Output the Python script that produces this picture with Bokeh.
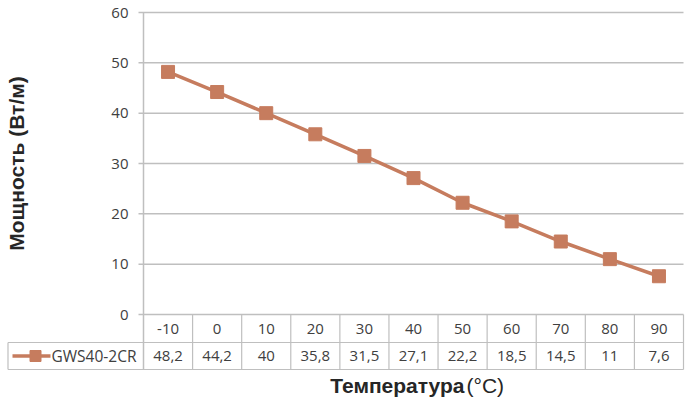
from bokeh.plotting import figure
from bokeh.models import Range1d
from bokeh.core.properties import value
from bokeh.embed import file_html
from bokeh.resources import INLINE

# ---- data ----
temps = ["-10", "0", "10", "20", "30", "40", "50", "60", "70", "80", "90"]
power = [48.2, 44.2, 40, 35.8, 31.5, 27.1, 22.2, 18.5, 14.5, 11, 7.6]
power_labels = ["48,2", "44,2", "40", "35,8", "31,5", "27,1", "22,2", "18,5", "14,5", "11", "7,6"]
y_ticks = [0, 10, 20, 30, 40, 50, 60]
series_name = "GWS40-2CR"
y_title = "Мощность (Вт/м)"
x_title_bold = "Температура"
x_title_unit = "(°C)"

# ---- layout helpers (pixel layout -> data units) ----
W, H = 685, 398
N = len(temps)
LEFT_PX, RIGHT_PX = 143, 683
COLW = (RIGHT_PX - LEFT_PX) / N
X0 = -0.5 - LEFT_PX / COLW
XR = X0 + W / COLW
Y_TOP_PX, Y_ZERO_PX = 12, 314
YS = (Y_ZERO_PX - Y_TOP_PX) / 60.0


def dx(px):
    return X0 + px / COLW


def dy(px):
    return (Y_ZERO_PX - px) / YS


ROW1_BOT = dy(342)
ROW2_BOT = dy(369)
ROW1_MID = (0 + ROW1_BOT) / 2
ROW2_MID = (ROW1_BOT + ROW2_BOT) / 2
X_END = N - 0.5

GRID = "#BFBFBF"
TXT = "#404040"
SER = "#C67C5E"
FONT = value("Open Sans")
BOLD = value("Liberation Sans")

p = figure(width=W, height=H, x_range=Range1d(X0, XR), y_range=Range1d(dy(H), dy(0)),
           output_backend="svg", toolbar_location=None, min_border=0,
           x_axis_type=None, y_axis_type=None, outline_line_color=None,
           background_fill_color="white", border_fill_color="white")
p.min_border_left = p.min_border_right = p.min_border_top = p.min_border_bottom = 0

idx = list(range(N))

# gridlines with small outer ticks
p.segment(x0=[dx(138)] * len(y_ticks), y0=y_ticks, x1=[X_END] * len(y_ticks), y1=y_ticks,
          line_color=GRID, line_width=1.5)
# value axis line (continues as table border)
p.segment(x0=[-0.5], y0=[60], x1=[-0.5], y1=[ROW2_BOT], line_color=GRID, line_width=1.5)
# y tick labels
p.text(x=[dx(128)] * len(y_ticks), y=y_ticks, text=[str(t) for t in y_ticks],
       text_font=FONT, text_font_size="15px", text_color=TXT,
       text_align="right", text_baseline="middle")

# table borders
p.segment(x0=[dx(7.5), dx(7.5)], y0=[ROW1_BOT, ROW2_BOT], x1=[X_END, X_END], y1=[ROW1_BOT, ROW2_BOT],
          line_color=GRID, line_width=1.2)
p.segment(x0=[i + 0.5 for i in idx], y0=[0] * N, x1=[i + 0.5 for i in idx], y1=[ROW2_BOT] * N,
          line_color=GRID, line_width=1.2)
p.segment(x0=[dx(7.5)], y0=[ROW1_BOT], x1=[dx(7.5)], y1=[ROW2_BOT], line_color=GRID, line_width=1.2)

# table texts
p.text(x=idx, y=[ROW1_MID] * N, text=temps, text_font=FONT, text_font_size="15px",
       text_color=TXT, text_align="center", text_baseline="middle")
p.text(x=idx, y=[ROW2_MID] * N, text=power_labels, text_font=FONT, text_font_size="15px",
       text_color=TXT, text_align="center", text_baseline="middle")

# legend key in table
p.line(x=[dx(12), dx(50)], y=[ROW2_MID, ROW2_MID], line_color=SER, line_width=3.5)
p.scatter(x=[dx(35)], y=[ROW2_MID], marker="square", size=11, fill_color=SER, line_color=SER)
p.text(x=[dx(51)], y=[ROW2_MID], text=[series_name], text_font=FONT, text_font_size="15.5px",
       text_color=TXT, text_align="left", text_baseline="middle")

# series
p.line(x=idx, y=power, line_color=SER, line_width=3.5)
p.scatter(x=idx, y=power, marker="square", size=13, fill_color=SER, line_color=SER)

# titles
p.text(x=[dx(16)], y=[dy(163)], text=[y_title], angle=1.5707963, text_font=BOLD,
       text_font_style="bold", text_font_size="21px", text_color="#262626",
       text_align="center", text_baseline="middle")
p.text(x=[dx(464)], y=[dy(385)], text=[x_title_bold], text_font=BOLD,
       text_font_style="bold", text_font_size="21px", text_color="#262626",
       text_align="right", text_baseline="middle")
p.text(x=[dx(466)], y=[dy(385)], text=[x_title_unit], text_font=BOLD,
       text_font_style="normal", text_font_size="21px", text_color="#262626",
       text_align="left", text_baseline="middle")

open("out.html", "w").write(file_html(p, INLINE))
